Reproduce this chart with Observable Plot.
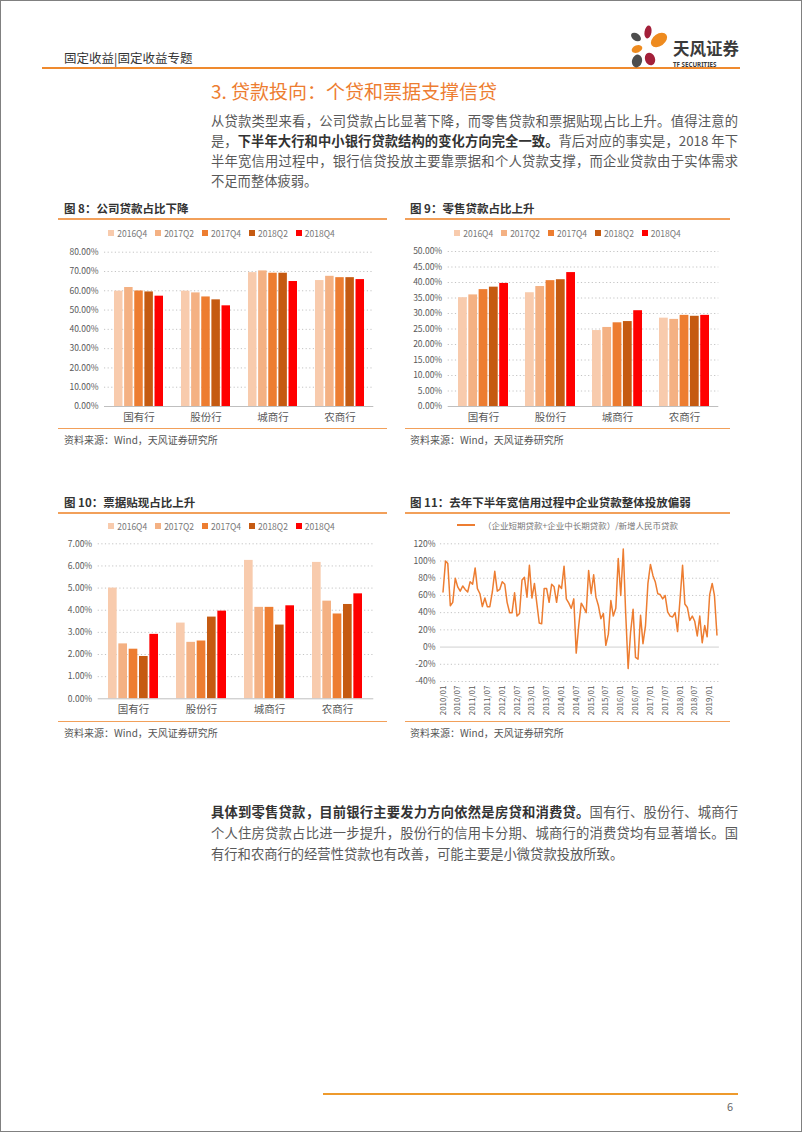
<!DOCTYPE html>
<html><head><meta charset="utf-8">
<script src="https://cdn.jsdelivr.net/npm/d3@7"></script>
<script src="https://cdn.jsdelivr.net/npm/@observablehq/plot@0.6"></script>
<style>
html,body{margin:0;padding:0;background:#fff;}
#page{position:relative;width:802px;height:1133px;overflow:hidden;font-family:"Noto Sans CJK SC","Noto Sans",sans-serif;color:#404040;}
.abs{position:absolute;}
.frame{left:0;top:0;width:800px;height:1130px;border:1px solid #808080;}
.hline{position:absolute;}
.pl{position:absolute;left:211px;width:527px;font-size:13.3px;line-height:20px;height:20px;color:#595959;text-align:justify;text-align-last:justify;}
.pl.last{text-align:left;text-align-last:left;}
.pl b{color:#333;font-weight:700;}
.ftitle{position:absolute;font-size:11.5px;font-weight:700;color:#333;line-height:14px;white-space:nowrap;}
.src{position:absolute;font-size:10px;color:#555;line-height:12px;white-space:nowrap;}
.legend{position:absolute;display:flex;justify-content:center;align-items:center;font-size:8.5px;color:#777;line-height:10px;white-space:nowrap;}
.legend .it{display:flex;align-items:center;margin:0 4px;}
.legend .sw{width:6px;height:6px;margin-right:3px;}
.chart{position:absolute;}
</style></head>
<body><div id="page">
<div class="abs frame"></div>
<div class="abs" style="left:64px;top:50px;font-size:12.5px;line-height:16px;color:#333;">固定收益|固定收益专题</div>
<div class="hline" style="left:42px;top:67px;width:698px;height:2px;background:#EF8A2E;"></div>
<svg class="abs" style="left:625px;top:18px;" width="120" height="50">
  <ellipse cx="23" cy="14" rx="3.5" ry="6.5" fill="#A3203A" transform="rotate(10 23 14)"/>
  <ellipse cx="11" cy="19" rx="5.5" ry="3.6" fill="#4D4D4D" transform="rotate(35 11 19)"/>
  <ellipse cx="34" cy="22" rx="9" ry="6" fill="#EE8B1F" transform="rotate(-35 34 22)"/>
  <ellipse cx="12" cy="31" rx="5.5" ry="3.6" fill="#EE8B1F" transform="rotate(-20 12 31)"/>
  <ellipse cx="12" cy="43" rx="5" ry="6.5" fill="#4D4D4D" transform="rotate(15 12 43)"/>
  <ellipse cx="25" cy="41" rx="5" ry="6.5" fill="#A3203A" transform="rotate(-20 25 41)"/>
  <text x="48" y="36.5" font-size="16.5" font-weight="700" fill="#3a3a3a" font-family="Noto Sans CJK SC">天风证券</text>
  <text x="48" y="48.5" font-size="6.2" font-weight="700" fill="#3a3a3a" font-family="Noto Sans, sans-serif">TF SECURITIES</text>
</svg>
<div class="abs" style="left:211px;top:79px;font-size:19px;line-height:24px;color:#ED7D31;white-space:nowrap;">3. 贷款投向：个贷和票据支撑信贷</div>
<div class="pl" style="top:111px;">从贷款类型来看，公司贷款占比显著下降，而零售贷款和票据贴现占比上升。值得注意的</div>
<div class="pl" style="top:131px;">是，<b>下半年大行和中小银行贷款结构的变化方向完全一致。</b>背后对应的事实是，2018 年下</div>
<div class="pl" style="top:151px;">半年宽信用过程中，银行信贷投放主要靠票据和个人贷款支撑，而企业贷款由于实体需求</div>
<div class="pl last" style="top:171px;">不足而整体疲弱。</div>

<div class="ftitle" style="left:64px;top:201px;">图 8：公司贷款占比下降</div>
<div class="hline" style="left:58px;top:218px;width:329px;height:1.5px;background:#F2A05A;"></div>
<div class="legend" id="lg8" style="left:58px;top:228px;width:327px;"></div>
<div class="chart" id="c8" style="left:58px;top:240px;"></div>
<div class="hline" style="left:58px;top:427.5px;width:329px;height:1.5px;background:#F2A05A;"></div>
<div class="src" style="left:64px;top:433.5px;">资料来源：Wind，天风证券研究所</div>

<div class="ftitle" style="left:410px;top:201px;">图 9：零售贷款占比上升</div>
<div class="hline" style="left:405px;top:218px;width:325px;height:1.5px;background:#F2A05A;"></div>
<div class="legend" id="lg9" style="left:405px;top:228px;width:325px;"></div>
<div class="chart" id="c9" style="left:405px;top:240px;"></div>
<div class="hline" style="left:405px;top:427.5px;width:325px;height:1.5px;background:#F2A05A;"></div>
<div class="src" style="left:410px;top:433.5px;">资料来源：Wind，天风证券研究所</div>

<div class="ftitle" style="left:64px;top:495px;">图 10：票据贴现占比上升</div>
<div class="hline" style="left:58px;top:512px;width:329px;height:1.5px;background:#F2A05A;"></div>
<div class="legend" id="lg10" style="left:58px;top:520.5px;width:327px;"></div>
<div class="chart" id="c10" style="left:58px;top:532px;"></div>
<div class="hline" style="left:58px;top:720.5px;width:329px;height:1.5px;background:#F2A05A;"></div>
<div class="src" style="left:64px;top:726.5px;">资料来源：Wind，天风证券研究所</div>

<div class="ftitle" style="left:410px;top:495px;">图 11：去年下半年宽信用过程中企业贷款整体投放偏弱</div>
<div class="hline" style="left:405px;top:512px;width:325px;height:1.5px;background:#F2A05A;"></div>
<div class="legend" id="lg11" style="left:405px;top:519.5px;width:325px;"></div>
<div class="chart" id="c11" style="left:405px;top:532px;"></div>
<div class="hline" style="left:405px;top:720.5px;width:325px;height:1.5px;background:#F2A05A;"></div>
<div class="src" style="left:410px;top:726.5px;">资料来源：Wind，天风证券研究所</div>

<div class="pl" style="top:802px;"><b>具体到零售贷款，目前银行主要发力方向依然是房贷和消费贷。</b>国有行、股份行、城商行</div>
<div class="pl" style="top:823px;">个人住房贷款占比进一步提升，股份行的信用卡分期、城商行的消费贷均有显著增长。国</div>
<div class="pl last" style="top:844px;">有行和农商行的经营性贷款也有改善，可能主要是小微贷款投放所致。</div>

<div class="hline" style="left:323px;top:1093px;width:415px;height:2px;background:#EE9A2C;"></div>
<div class="abs" style="left:727px;top:1099px;font-size:11px;line-height:14px;color:#666;">6</div>
</div>
<script>
// ---- data ----
const banks = ["国有行", "股份行", "城商行", "农商行"];
const periods = ["2016Q4", "2017Q2", "2017Q4", "2018Q2", "2018Q4"];
const barColors = ["#F8CBAD", "#F4B183", "#ED7D31", "#C55A11", "#FF0000"];
// rows: banks, columns: periods (%)
const corporateShare = [
  [59.8, 61.7, 59.9, 59.4, 57.2],
  [59.8, 58.9, 56.8, 55.3, 52.2],
  [69.4, 70.3, 69.1, 69.1, 64.8],
  [65.3, 67.5, 66.8, 66.8, 65.8]
];
const retailShare = [
  [35.1, 36.0, 37.7, 38.5, 39.7],
  [36.7, 38.7, 40.6, 40.9, 43.2],
  [24.5, 25.5, 27.0, 27.4, 30.9],
  [28.5, 28.1, 29.4, 29.1, 29.4]
];
const billShare = [
  [5.00, 2.48, 2.24, 1.91, 2.91],
  [3.42, 2.55, 2.61, 3.69, 3.96],
  [6.25, 4.13, 4.13, 3.33, 4.20],
  [6.16, 4.41, 3.83, 4.26, 4.74]
];
// monthly, 2010/01 .. 2019/04 (%)
const lineStart = [2010, 0];
const corpLoanRatio = [
  64,100,97,48,52,80,70,65,71,67,64,76,
  73,92,68,62,47,57,47,47,64,88,65,67,
  76,73,52,40,40,63,36,39,78,81,58,95,
  57,74,52,28,27,68,68,52,73,70,52,72,
  68,94,56,51,45,56,-7,25,51,46,40,89,
  62,84,58,48,33,39,2,15,54,36,45,103,
  60,114,41,-25,17,44,-12,-14,37,4,25,74,
  96,83,76,62,61,56,60,41,36,35,40,18,
  56,95,50,46,31,36,30,13,36,5,25,12,
  61,74,60,14
];
const lineLabel = "（企业短期贷款+企业中长期贷款）/新增人民币贷款";

// ---- legends ----
function barLegend(id) {
  const el = document.getElementById(id);
  periods.forEach((p, i) => {
    const it = document.createElement("div"); it.className = "it";
    it.innerHTML = `<div class="sw" style="background:${barColors[i]}"></div><span>${p}</span>`;
    el.appendChild(it);
  });
}
["lg8", "lg9", "lg10"].forEach(barLegend);
document.getElementById("lg11").innerHTML =
  `<div class="it"><div style="width:18px;height:2px;background:#ED7D31;margin-right:8px"></div><span>${lineLabel}</span></div>`;

const FONT = "'Noto Sans CJK SC', 'Noto Sans', sans-serif";

function barChart(values, cfg) {
  const data = banks.flatMap((b, i) => periods.map((p, j) => ({bank: b, period: p, value: values[i][j]})));
  const plotW = cfg.width - cfg.marginLeft - cfg.marginRight;
  const outer = d3.scaleBand().domain(banks).range([0, plotW]).paddingInner(cfg.pi).paddingOuter(cfg.po);
  const bw = outer.bandwidth();
  const inner = d3.scaleBand().domain(periods).range([0, bw]).paddingInner(0.15);
  const ticks = d3.range(0, cfg.yMax + cfg.yStep / 2, cfg.yStep);
  const chart = Plot.plot({
    width: cfg.width, height: cfg.height,
    marginLeft: cfg.marginLeft, marginRight: cfg.marginRight,
    marginTop: cfg.marginTop, marginBottom: cfg.marginBottom,
    style: {fontFamily: FONT, fontSize: "8.5px", color: "#595959", background: "transparent"},
    x: {domain: banks, paddingInner: cfg.pi, paddingOuter: cfg.po, tickSize: 0, tickPadding: 7, label: null},
    y: {domain: [0, cfg.yMax], ticks, tickSize: 0, tickPadding: 6, label: null,
        tickFormat: d => d.toFixed(2) + "%"},
    marks: [
      Plot.ruleY(ticks.filter(t => t > 0), {stroke: "#c4c4c4", strokeDasharray: "1.2,2.4", strokeWidth: 1}),
      ...periods.map((p, j) => Plot.barY(data.filter(d => d.period === p), {
        x: "bank", y: "value", fill: barColors[j],
        insetLeft: inner(p), insetRight: bw - inner(p) - inner.bandwidth()
      })),
      Plot.ruleY([0], {stroke: "#bfbfbf", strokeWidth: 1})
    ]
  });
  d3.select(chart).selectAll('[aria-label^="x-axis"] text').attr("font-size", "10.5px").attr("fill", "#595959");
  return chart;
}

document.getElementById("c8").appendChild(barChart(corporateShare, {
  width: 327, height: 190, marginLeft: 46, marginRight: 11.7, marginTop: 11.7, marginBottom: 24,
  pi: 0.27, po: 0.136, yMax: 80, yStep: 10
}));
document.getElementById("c9").appendChild(barChart(retailShare, {
  width: 325, height: 190, marginLeft: 42.7, marginRight: 11.7, marginTop: 11, marginBottom: 24,
  pi: 0.26, po: 0.133, yMax: 50, yStep: 5
}));
document.getElementById("c10").appendChild(barChart(billShare, {
  width: 327, height: 186, marginLeft: 39.7, marginRight: 11.7, marginTop: 11.3, marginBottom: 19.7,
  pi: 0.264, po: 0.155, yMax: 7, yStep: 1
}));

// ---- line chart ----
const start = new Date(Date.UTC(lineStart[0], lineStart[1], 1));
const lineData = corpLoanRatio.map((v, i) => ({date: d3.utcMonth.offset(start, i), value: v}));
const yTicks11 = d3.range(-40, 121, 20);
const xTicks11 = d3.utcMonth.range(new Date(Date.UTC(2010, 0, 1)), new Date(Date.UTC(2019, 1, 2)), 6);
const c11 = Plot.plot({
  width: 325, height: 184,
  marginLeft: 35, marginRight: 11.1, marginTop: 11.3, marginBottom: 35,
  style: {fontFamily: FONT, fontSize: "8.5px", color: "#595959", background: "transparent"},
  x: {type: "utc", domain: [new Date(Date.UTC(2009, 11, 1)), new Date(Date.UTC(2019, 4, 1))],
      ticks: xTicks11, tickFormat: d3.utcFormat("%Y/%m"), tickRotate: -90, tickSize: 0, tickPadding: 4, label: null},
  y: {domain: [-40, 120], ticks: yTicks11, tickSize: 0, tickPadding: 5, label: null,
      tickFormat: d => Math.round(d) + "%"},
  marks: [
    Plot.ruleY(yTicks11.filter(t => t !== 0), {stroke: "#c4c4c4", strokeDasharray: "1.2,2.4", strokeWidth: 1}),
    Plot.ruleY([0], {stroke: "#d0d0d0", strokeWidth: 1}),
    Plot.line(lineData, {x: "date", y: "value", stroke: "#ED7D31", strokeWidth: 1.5})
  ]
});
d3.select(c11).selectAll('[aria-label^="x-axis"] text').attr("font-size", "8px");
document.getElementById("c11").appendChild(c11);
</script>
</body></html>
